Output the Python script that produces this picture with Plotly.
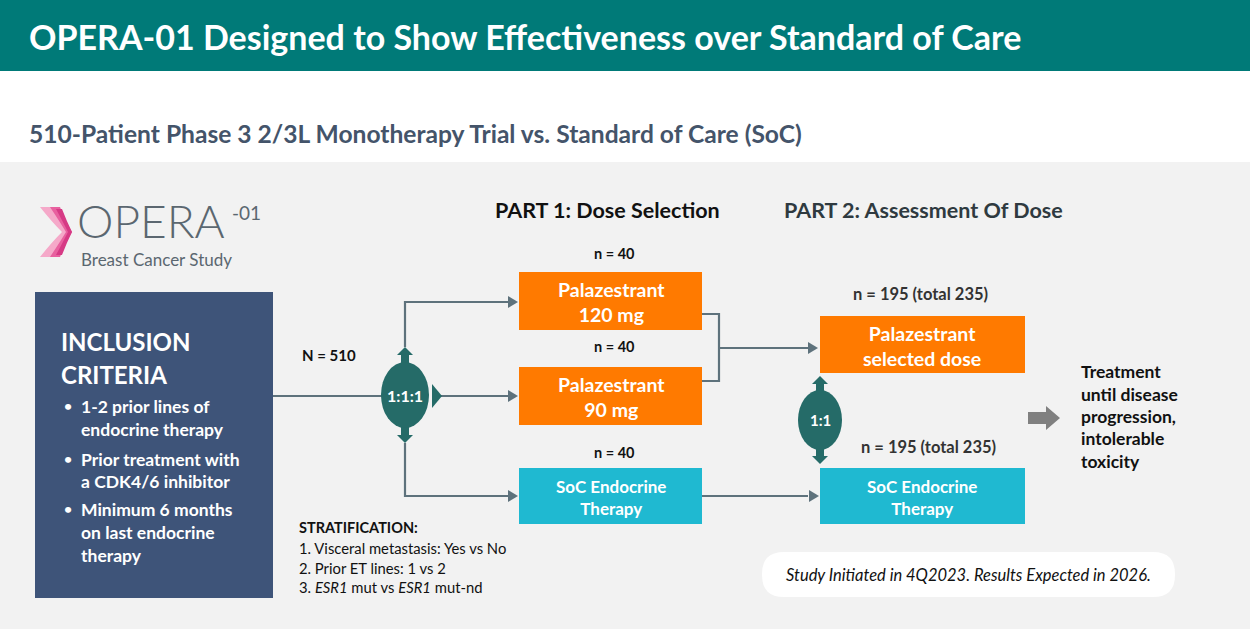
import plotly.graph_objects as go

# ---- content ----
title_text = "OPERA-01 Designed to Show Effectiveness over Standard of Care"
subtitle_text = "510-Patient Phase 3 2/3L Monotherapy Trial vs. Standard of Care (SoC)"
part_titles = ["PART 1: Dose Selection", "PART 2: Assessment Of Dose"]
part1_arms = ["Palazestrant<br>120 mg", "Palazestrant<br>90 mg", "SoC Endocrine<br>Therapy"]
part1_n = ["n = 40", "n = 40", "n = 40"]
part2_arms = ["Palazestrant<br>selected dose", "SoC Endocrine<br>Therapy"]
part2_n = ["n = 195 (total 235)", "n = 195 (total 235)"]
total_n = "N = 510"
ratios = ["1:1:1", "1:1"]
inclusion_title = ["INCLUSION", "CRITERIA"]
inclusion_bullets = [["1-2 prior lines of", "endocrine therapy"],
                     ["Prior treatment with", "a CDK4/6 inhibitor"],
                     ["Minimum 6 months", "on last endocrine", "therapy"]]
strat_title = "STRATIFICATION:"
strat_lines = ["1. Visceral metastasis: Yes vs No",
               "2. Prior ET lines: 1 vs 2",
               "3. <i>ESR1</i> mut vs <i>ESR1</i> mut-nd"]
outcome_lines = ["Treatment", "until disease", "progression,", "intolerable", "toxicity"]
note_text = "<i>Study Initiated in 4Q2023. Results Expected in 2026.</i>"
logo_main, logo_sup, logo_sub = "OPERA", "-01", "Breast Cancer Study"

# ---- styles ----
TEAL = "#007A78"
NAVY = "#3E5479"
ORANGE = "#FF7A00"
CYAN = "#1FB9D1"
DARKTEAL = "#256B68"
LINE = "#5E727C"
FONT = "Lato"

W, H = 1250, 629
fig = go.Figure()
shapes = []
ann = []

def rect(x0, y0, x1, y1, color, layer="below"):
    shapes.append(dict(type="rect", x0=x0, y0=y0, x1=x1, y1=y1, fillcolor=color,
                       line=dict(width=0), layer=layer))

def path(d, color, layer="above"):
    shapes.append(dict(type="path", path=d, layer=layer, line=dict(width=0), fillcolor=color))

def line(pts, color=LINE, w=2.2):
    d = "M " + " L ".join(f"{x},{y}" for x, y in pts)
    shapes.append(dict(type="path", path=d, line=dict(color=color, width=w), layer="above"))

def arrow_right(x, y, color=LINE):
    path(f"M {x},{y} L {x-10},{y-6} L {x-10},{y+6} Z", color)

def text(x, y, s, size=16, color="#222", bold=False, anchor="left", font=FONT):
    if bold:
        s = f"<b>{s}</b>"
    ann.append(dict(x=x, y=y, xref="x", yref="y", text=s, showarrow=False,
                    xanchor=anchor, yanchor="middle",
                    font=dict(size=size, color=color, family=font)))

# backgrounds
rect(0, 0, W, 71, TEAL)
rect(0, 71, W, 162, "#FFFFFF")
rect(0, 162, W, H, "#F2F2F2")

text(27, 36, title_text, size=34, color="white", bold=True)
text(27, 133, subtitle_text, size=24.6, color="#44546A", bold=True)

# logo
path("M 40,207 L 52,207 Q 62,222 72,232 Q 62,242 52,257 L 40,257 Q 52,242 62,232 Q 52,222 40,207 Z", "#F5A9C9")
path("M 50,207 L 60,207 Q 66,222 72,232 Q 66,242 60,257 L 50,257 Q 60,242 66,232 Q 60,222 50,207 Z", "#E8609F")
path("M 56,209 L 62,209 Q 67,222 72,232 Q 67,242 62,255 L 56,255 Q 63,242 68,232 Q 63,222 56,209 Z", "#D63A85")
text(75, 220, logo_main, size=46, color="#5B6770", font="Lato Light, Lato")
text(230, 212, logo_sup, size=19, color="#5B6770", font="Lato")
text(79, 259, logo_sub, size=17, color="#5B6770", font="Lato")

# inclusion box
rect(35, 292, 273, 598, NAVY)
text(59, 341, inclusion_title[0], size=24, color="white", bold=True)
text(59, 374, inclusion_title[1], size=24, color="white", bold=True)
yb = [[406, 429], [459, 481], [509, 532, 555]]
for lines_, ys in zip(inclusion_bullets, yb):
    text(62, ys[0] - 1, "•", size=14, color="white", bold=True)
    for s, yy in zip(lines_, ys):
        text(79, yy, s, size=17.5, color="white", bold=True)

# main line from box to ellipse
line([(273, 396), (385, 396)])
text(300, 355, total_n, size=15, color="#111", bold=True)

# ellipse 1 with arrows
cx, cy = 405, 395
line([(cx, 347), (cx, 302), (508, 302)])
arrow_right(518, 302)
line([(440, 396), (508, 396)])
arrow_right(518, 396)
line([(cx, 443), (cx, 496), (508, 496)])
arrow_right(518, 496)
path(f"M {cx},347 L {cx+8},355 L {cx+4},355 L {cx+4},366 L {cx-4},366 L {cx-4},355 L {cx-8},355 Z", DARKTEAL)
path(f"M {cx},443 L {cx+8},435 L {cx+4},435 L {cx+4},424 L {cx-4},424 L {cx-4},435 L {cx-8},435 Z", DARKTEAL)
path("M 442,396 L 432,384 L 432,408 Z", DARKTEAL)
shapes.append(dict(type="circle", x0=cx-24, x1=cx+24, y0=cy-33, y1=cy+33,
                   fillcolor=DARKTEAL, line=dict(width=0), layer="above"))
text(cx, cy, ratios[0], size=16, color="white", bold=True, anchor="center")

# part titles
text(607, 210, part_titles[0], size=21.5, color="#111", bold=True, anchor="center")
text(923, 210, part_titles[1], size=21.5, color="#2F3A40", bold=True, anchor="center")

# part 1 boxes
p1_boxes = [(272, 330, ORANGE), (367, 425, ORANGE), (468, 524, CYAN)]
p1_n_y = [253, 346, 452]
for lab, n, (y0, y1, c), ny in zip(part1_arms, part1_n, p1_boxes, p1_n_y):
    rect(519, y0, 702, y1, c, layer="above")
    text(611, (y0 + y1) / 2 + 1, lab, size=19.5 if c == ORANGE else 17, color="white", bold=True, anchor="center")
    text(614, ny, n, size=14.5, color="#111", bold=True, anchor="center")

# bracket to part 2
line([(702, 314), (719, 314), (719, 381), (702, 381)])
line([(719, 348), (808, 348)])
arrow_right(818, 348)
line([(702, 496), (808, 496)])
arrow_right(819, 496)

# part 2 boxes
p2_boxes = [(316, 373, ORANGE), (468, 524, CYAN)]
p2_n_pos = [(920, 294), (928, 447)]
for lab, n, (y0, y1, c), (nx, ny) in zip(part2_arms, part2_n, p2_boxes, p2_n_pos):
    rect(820, y0, 1025, y1, c, layer="above")
    text(922, (y0 + y1) / 2 + 1, lab, size=19.5 if c == ORANGE else 17, color="white", bold=True, anchor="center")
    text(nx, ny, n, size=16.5, color="#333", bold=True, anchor="center")

# ellipse 2
ex, ey = 820, 420
path(f"M {ex},376 L {ex+8},384 L {ex+4},384 L {ex+4},395 L {ex-4},395 L {ex-4},384 L {ex-8},384 Z", DARKTEAL)
path(f"M {ex},464 L {ex+8},456 L {ex+4},456 L {ex+4},445 L {ex-4},445 L {ex-4},456 L {ex-8},456 Z", DARKTEAL)
shapes.append(dict(type="circle", x0=ex-22, x1=ex+22, y0=ey-30, y1=ey+30,
                   fillcolor=DARKTEAL, line=dict(width=0), layer="above"))
text(ex, ey, ratios[1], size=15, color="white", bold=True, anchor="center")

# grey block arrow
path("M 1028,412 L 1046,412 L 1046,406 L 1060,418 L 1046,430 L 1046,424 L 1028,424 Z", "#808080")
for s, yy in zip(outcome_lines, [371, 394, 416, 438, 461]):
    text(1079, yy, s, size=17.5, color="#111", bold=True)

# stratification
text(297, 527, strat_title, size=14.5, color="#111", bold=True)
for s, yy in zip(strat_lines, [548, 568, 587]):
    text(297, yy, s, size=14.8, color="#111")

# note box
x0, y0, x1, y1, r = 762, 552, 1175, 597, 22
path(f"M {x0+r},{y0} L {x1-r},{y0} Q {x1},{y0} {x1},{y0+r} L {x1},{y1-r} Q {x1},{y1} {x1-r},{y1} "
     f"L {x0+r},{y1} Q {x0},{y1} {x0},{y1-r} L {x0},{y0+r} Q {x0},{y0} {x0+r},{y0} Z", "#FFFFFF")
text(968, 575, note_text, size=16.5, color="#111", anchor="center")

fig.update_layout(width=W, height=H, margin=dict(l=0, r=0, t=0, b=0), autosize=False,
                  plot_bgcolor="white", paper_bgcolor="white",
                  xaxis=dict(range=[0, W], visible=False, fixedrange=True),
                  yaxis=dict(range=[H, 0], visible=False, fixedrange=True),
                  shapes=shapes, annotations=ann, showlegend=False)
fig.write_html("out.html", config={"displayModeBar": False, "responsive": False},
               post_script="document.body.style.margin='0';document.body.style.overflow='hidden';")
